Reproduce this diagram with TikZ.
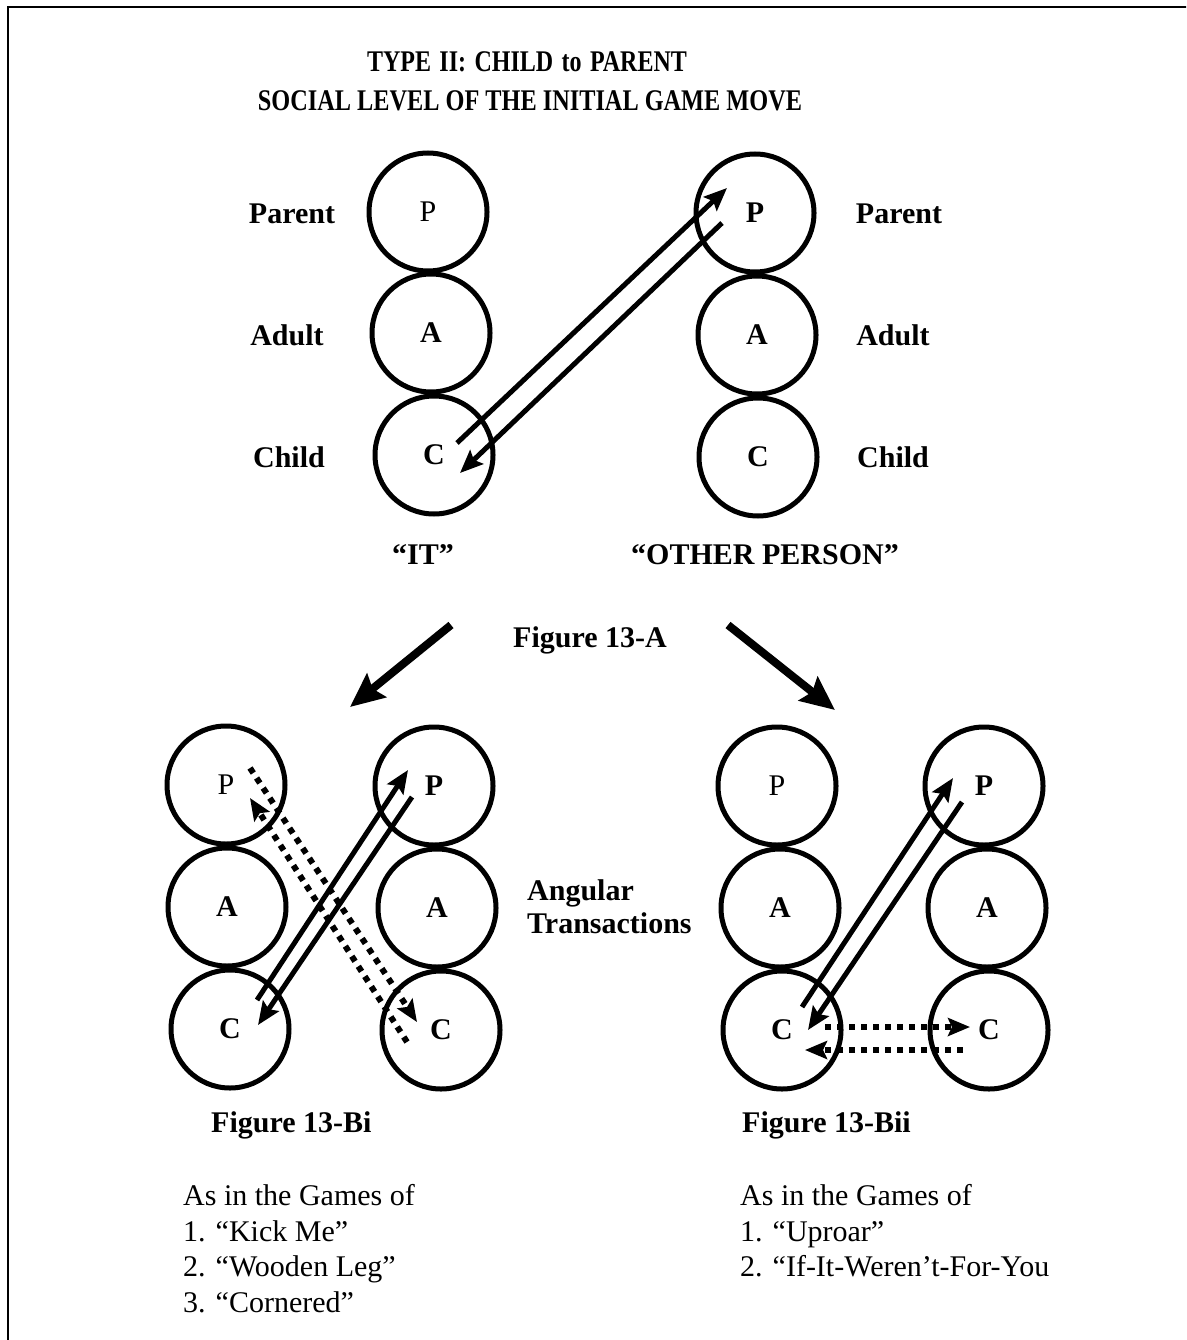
\documentclass[tikz,border=0pt]{standalone}
\usepackage{fontspec}
\usepackage{graphicx}
\setmainfont{Liberation Serif}
\usetikzlibrary{arrows.meta}
\begin{document}
\begin{tikzpicture}[x=1pt,y=-1pt,
  circ/.style={draw,circle,line width=5pt,minimum size=118pt,inner sep=0pt,font=\fontsize{30}{34}\selectfont\bfseries},
  circr/.style={circ,font=\fontsize{30}{34}\selectfont},
  lbl/.style={inner sep=0pt,font=\fontsize{30}{34}\selectfont\bfseries},
  txt/.style={anchor=base west,inner sep=0pt,font=\fontsize{30}{34}\selectfont},
  btxt/.style={anchor=base west,inner sep=0pt,font=\fontsize{30}{34}\selectfont\bfseries},
  trans/.style={line width=5pt,-{Stealth[length=23pt,width=19pt,inset=4pt]}},
  dotarrow/.style={line width=6pt,dash pattern=on 6pt off 6pt,-{Stealth[length=22pt,width=18pt,inset=4pt]}},
  bigarrow/.style={line width=8pt,-{Stealth[length=34pt,width=30pt,inset=5pt]}}
]
\useasboundingbox (0,0) rectangle (1186,1340);
\begin{scope}
\clip (0,0) rectangle (1186,1340);
\draw[line width=2.5pt] (8,1360) -- (8,7) -- (1200,7);
\end{scope}

% title
\node[lbl] (title1) at (527,62) {\scalebox{0.8}[1]{TYPE\hspace{0.35em}II:\hspace{0.35em}CHILD\hspace{0.35em}to\hspace{0.35em}PARENT}};
\node[lbl] (title2) at (530,101) {\scalebox{0.81}[1]{SOCIAL LEVEL OF THE INITIAL GAME MOVE}};

% top diagram
\node[circr] (tlP) at (428,212) {P};
\node[circ]  (tlA) at (431,333) {A};
\node[circ]  (tlC) at (434,455) {C};
\node[circ]  (trP) at (755,213) {P};
\node[circ]  (trA) at (757,335) {A};
\node[circ]  (trC) at (758,457) {C};
\node[lbl] (lpar) at (292,214) {Parent};
\node[lbl] (ladu) at (287,335) {Adult};
\node[lbl] (lchi) at (289,457) {Child};
\node[lbl] (rpar) at (899,214) {Parent};
\node[lbl] (radu) at (893,335) {Adult};
\node[lbl] (rchi) at (893,457) {Child};
\node[lbl] (it) at (423,555) {“IT”};
\node[lbl] (other) at (765,555) {“OTHER PERSON”};
\node[lbl] (figA) at (590,640) {Figure 13-A};

\coordinate (t1s) at (457,443);
\coordinate (t1e) at (727,188);
\coordinate (t2s) at (722,223);
\coordinate (t2e) at (460,473);
\draw[trans] (t1s) -- (t1e);
\draw[trans] (t2s) -- (t2e);

% big arrows
\coordinate (bl1) at (451,625);
\coordinate (bl2) at (350,707);
\coordinate (br1) at (728,625);
\coordinate (br2) at (835,710);
\draw[bigarrow] (bl1) -- (bl2);
\draw[bigarrow] (br1) -- (br2);

% Figure 13-Bi
\node[circr] (alP) at (226,785) {P};
\node[circ]  (alA) at (227,907) {A};
\node[circ]  (alC) at (230,1029) {C};
\node[circ]  (arP) at (434,786) {P};
\node[circ]  (arA) at (437,908) {A};
\node[circ]  (arC) at (441,1030) {C};
\coordinate (b1s) at (257,1000);
\coordinate (b1e) at (408,770);
\coordinate (b2s) at (412,797);
\coordinate (b2e) at (258,1025);
\draw[trans] (b1s) -- (b1e);
\draw[trans] (b2s) -- (b2e);
\coordinate (d1s) at (250,768);
\coordinate (d1e) at (417,1022);
\coordinate (d2s) at (407,1042);
\coordinate (d2e) at (250,798);
\draw[dotarrow] (d1s) -- (d1e);
\draw[dotarrow] (d2s) -- (d2e);

\node[btxt] (ang) at (527,900) {Angular};
\node[btxt] (tra) at (527,933) {Transactions};

% Figure 13-Bii
\node[circr] (blP) at (777,786) {P};
\node[circ]  (blA) at (780,908) {A};
\node[circ]  (blC) at (782,1030) {C};
\node[circ]  (brP) at (984,786) {P};
\node[circ]  (brA) at (987,908) {A};
\node[circ]  (brC) at (989,1030) {C};
\coordinate (c1s) at (802,1007);
\coordinate (c1e) at (953,778);
\coordinate (c2s) at (962,802);
\coordinate (c2e) at (808,1030);
\draw[trans] (c1s) -- (c1e);
\draw[trans] (c2s) -- (c2e);
\coordinate (e1s) at (825,1027);
\coordinate (e1e) at (970,1027);
\coordinate (e2s) at (963,1050);
\coordinate (e2e) at (805,1050);
\draw[dotarrow] (e1s) -- (e1e);
\draw[dotarrow] (e2s) -- (e2e);

% captions and lists
\node[btxt] (figBi) at (211,1132) {Figure 13-Bi};
\node[txt] (bi0) at (183,1205) {As in the Games of};
\node[txt] (bi1) at (183,1241) {1. “Kick Me”};
\node[txt] (bi2) at (183,1276) {2. “Wooden Leg”};
\node[txt] (bi3) at (183,1312) {3. “Cornered”};
\node[btxt] (figBii) at (742,1132) {Figure 13-Bii};
\node[txt] (bii0) at (740,1205) {As in the Games of};
\node[txt] (bii1) at (740,1241) {1. “Uproar”};
\node[txt] (bii2) at (740,1276) {2. “If-It-Weren’t-For-You};
\end{tikzpicture}
\end{document}
